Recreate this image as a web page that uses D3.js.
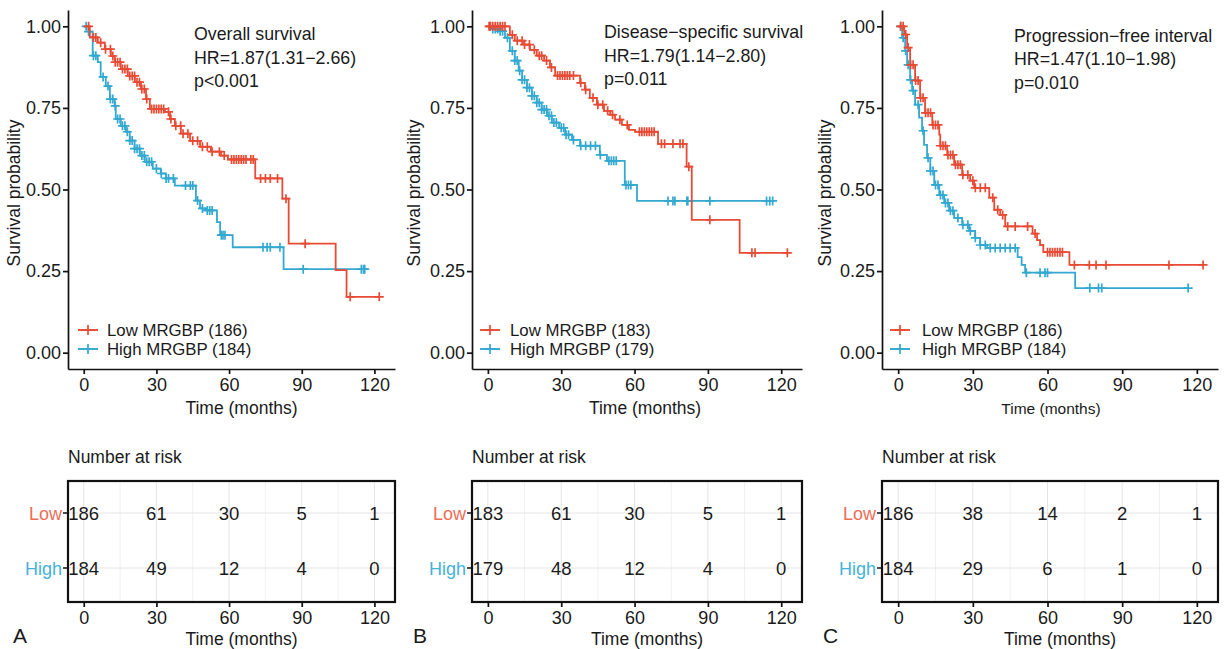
<!DOCTYPE html>
<html>
<head>
<meta charset="utf-8">
<script src="https://cdn.jsdelivr.net/npm/d3@7"></script>
<style>
  body { margin: 0; background: #fff; }
  text { font-family: "Liberation Sans", Arial, sans-serif; fill: #1a1a1a; }
</style>
</head>
<body>
<svg id="fig" width="1226" height="649"></svg>
<script>
// shared ticks / groups
const timeTicks = [0, 30, 60, 90, 120];
const gridTimes = [0, 15, 30, 45, 60, 75, 90, 105, 120];
const survTicks = [0, 0.25, 0.5, 0.75, 1];
const groupNames = ["Low", "High"];
const lowColor = "#E84B35";
const highColor = "#33A8D0";

// A - overall survival ([time of drop, survival after drop])
const osLowSteps = [[2.5,.966],[5.8,.95],[8.7,.93],[11.2,.909],[12.8,.89],[15.3,.869],[18.2,.848],[21.1,.829],[23.6,.808],[25.7,.777],[27.3,.747],[33.5,.738],[35.6,.716],[37.6,.695],[40.1,.671],[43.9,.649],[48,.631],[52.5,.616],[56.7,.604],[59.5,.592],[70.8,.534],[82,.472],[84.6,.334],[104,.253],[108.5,.171]];
const osLowEnd = 122;
const osLowCensor = [2,4,5,7,9,11,12,13,14,15,16,17,18,19,20,21,22,23,24,25,26,28,29,30,31,32,33,35,36,38,40,41,43,45,47,49,51,53,56,58,61,62,63,64,65,66,67,69,70,73,75,77,80,83.5,91.4,110,122];
const osHighSteps = [[2,.984],[3.7,.91],[5.8,.89],[7,.845],[9.1,.817],[10.8,.777],[12.8,.756],[13.2,.716],[15.3,.695],[17.4,.677],[19,.65],[21,.625],[23.2,.604],[25.2,.585],[28.5,.564],[31.8,.549],[33.9,.534],[37.6,.512],[46.3,.466],[48,.442],[50,.436],[55,.40],[56.3,.36],[61.5,.323],[82.5,.256]];
const osHighEnd = 116;
const osHighCensor = [1,2,4,5,8,10,11,12,13,14,15,16,17,18,19,20,21,22,23,24,25,26,27,28,30,32,34,35,37,42,44,45,47,49,51,52,53,56.8,57.5,58.3,74,75.7,77,81,90.6,114.6,115.5,116];
const osRiskLow = [186, 61, 30, 5, 1];
const osRiskHigh = [184, 49, 12, 4, 0];

// B - disease-specific survival
const dssLowSteps = [[9,.974],[11,.956],[14.8,.944],[17.2,.928],[20,.91],[23,.895],[25.4,.874],[27.5,.849],[37.7,.827],[39.7,.806],[41.7,.781],[44.6,.76],[47.5,.741],[50,.729],[52,.714],[54.8,.698],[57.7,.683],[60.2,.677],[69.6,.64],[81.3,.57],[83.4,.407],[103,.306]];
const dssLowEnd = 122.5;
const dssLowCensor = [0.5,1,2,3,4,5,6,7,10,12,14,15,17,19,21,22,24,26,28.5,29.5,30.5,31.5,32.5,33.5,35,38,40,43,45,47,49,51,54,57,62,63,64,65,66,67,68,71,72.3,75.7,78.6,79.8,82.2,90.8,108,109.3,122.5];
const dssHighSteps = [[1.5,.992],[4.5,.985],[7,.965],[9,.925],[11,.895],[12.6,.864],[14,.836],[16,.812],[18,.787],[20,.766],[22,.745],[24.2,.726],[26.2,.705],[29.1,.689],[31.6,.668],[34.4,.652],[37.7,.634],[45.8,.606],[48.7,.588],[56,.514],[61,.465]];
const dssHighEnd = 116.5;
const dssHighCensor = [1,2,3,4,5,6,8,10,11,12,13,14,15,16,17,18,19,20,21,22,23,24,25,26,27,28,30,31,32,33,35,38,40,42,44,46,49.5,50.5,51.5,52.5,56.5,57.5,58.5,73.7,75.7,76.5,81.4,81.8,90.8,114,115.3,116.5];
const dssRiskLow = [183, 61, 30, 5, 1];
const dssRiskHigh = [179, 48, 12, 4, 0];

// C - progression-free interval
const pfiLowSteps = [[2.4,.975],[3.6,.935],[4.8,.882],[6.8,.834],[8.8,.781],[10.8,.735],[13.7,.698],[16.5,.668],[16.9,.634],[19.7,.606],[22.5,.576],[25.7,.545],[28.9,.527],[30.5,.505],[36.6,.475],[38.6,.438],[41,.422],[43,.387],[54,.365],[55.8,.345],[57,.33],[58.3,.308],[68.8,.269]];
const pfiLowEnd = 122.5;
const pfiLowCensor = [1,2,3,4,5,6,7,8,9,10,11,12,13,14,15,16,17,18,19,20,21,22,23,24,25,26,28,30,31,33,35,38,40,42,44,47,52,55,60,61,62,63,64,65,66,70.8,76.8,79.5,83.5,108.8,122.5];
const pfiHighSteps = [[1.6,.965],[2.8,.925],[3.6,.882],[4.8,.836],[5.6,.803],[6.8,.76],[8.4,.72],[9.6,.68],[10.4,.637],[11.6,.597],[12.9,.557],[14.5,.514],[16.5,.483],[18.5,.459],[20.5,.435],[22.5,.413],[25.7,.392],[28.5,.373],[30.9,.352],[32.9,.33],[35.8,.321],[48,.293],[49.6,.269],[51,.245],[71.1,.198]];
const pfiHighEnd = 116.5;
const pfiHighCensor = [1,2,3,4,5,6,8,10,12,13,14,15,16,17,18,19,20,21,22,24,26,28,29,31,33,35,37,39,41,43,45,47,51.5,57,59,60,77,80.5,81.8,116.5];
const pfiRiskLow = [186, 38, 14, 2, 1];
const pfiRiskHigh = [184, 29, 6, 1, 0];

const panels = [
  { letter: "A", title: "Overall survival", hr: "HR=1.87(1.31\u22122.66)", p: "p<0.001", n: [186, 184],
    low: { steps: osLowSteps, end: osLowEnd, censor: osLowCensor },
    high: { steps: osHighSteps, end: osHighEnd, censor: osHighCensor },
    risk: [osRiskLow, osRiskHigh] },
  { letter: "B", title: "Disease\u2212specific survival", hr: "HR=1.79(1.14\u22122.80)", p: "p=0.011", n: [183, 179],
    low: { steps: dssLowSteps, end: dssLowEnd, censor: dssLowCensor },
    high: { steps: dssHighSteps, end: dssHighEnd, censor: dssHighCensor },
    risk: [dssRiskLow, dssRiskHigh] },
  { letter: "C", title: "Progression\u2212free interval", hr: "HR=1.47(1.10\u22121.98)", p: "p=0.010", n: [186, 184],
    low: { steps: pfiLowSteps, end: pfiLowEnd, censor: pfiLowCensor },
    high: { steps: pfiHighSteps, end: pfiHighEnd, censor: pfiHighCensor },
    risk: [pfiRiskLow, pfiRiskHigh] }
];

// where each panel sits on the page
const layout = [
  { left: 68, right: 395, titleX: 194, titleY: [40, 64, 87], keyX: 78, textX: 107, ylabX: 20, xlabDx: 10, letterX: 13, xlabSize: 17.5 },
  { left: 472, right: 802, titleX: 604, titleY: [38, 62, 85], keyX: 480, textX: 510, ylabX: 419.5, xlabDx: 8, letterX: 413, xlabSize: 17.5 },
  { left: 882, right: 1218, titleX: 1014, titleY: [42, 65, 89], keyX: 890, textX: 922, ylabX: 831, xlabDx: 1, letterX: 823, xlabSize: 15.5 }
];

const svg = d3.select("#fig");

function survAt(curve, t) {
  let s = 1;
  curve.steps.forEach(d => { if (d[0] <= t) s = d[1]; });
  return s;
}

function plusMark(g, cx, cy, color, r) {
  g.append("path")
    .attr("d", `M${cx - r},${cy}H${cx + r}M${cx},${cy - r}V${cy + r}`)
    .attr("stroke", color)
    .attr("stroke-width", 1.7)
    .attr("fill", "none");
}

function styleAxis(sel, size) {
  sel.selectAll("path, line").attr("stroke", "#111").attr("stroke-width", 1.7);
  sel.selectAll("text").attr("font-size", size).attr("fill", "#1a1a1a")
    .style("font-family", "'Liberation Sans', Arial, sans-serif");
}

function drawPanel(p, lay) {
  const g = svg.append("g");
  const x = d3.scaleLinear().domain([-6.5, 128.5]).range([lay.left, lay.right]);
  const y = d3.scaleLinear().domain([-0.05, 1.05]).range([369, 10]);

  // survival curves
  const line = d3.line().x(d => x(d[0])).y(d => y(d[1])).curve(d3.curveStepAfter);
  const curves = [[p.high, highColor], [p.low, lowColor]];
  curves.forEach(([c, col]) => {
    const pts = [[0, 1]].concat(c.steps);
    pts.push([c.end, c.steps[c.steps.length - 1][1]]);
    g.append("path").datum(pts)
      .attr("d", line)
      .attr("fill", "none")
      .attr("stroke", col)
      .attr("stroke-width", 1.8);
    c.censor.forEach(t => plusMark(g, x(t), y(survAt(c, t)), col, 4.5));
  });

  // axes
  const yAx = g.append("g").attr("transform", `translate(${lay.left},0)`)
    .call(d3.axisLeft(y).tickValues(survTicks).tickFormat(d3.format(".2f")).tickSize(5).tickSizeOuter(0).tickPadding(2));
  styleAxis(yAx, 18);
  const xAx = g.append("g").attr("transform", "translate(0,369)")
    .call(d3.axisBottom(x).tickValues(timeTicks).tickSize(5).tickSizeOuter(0).tickPadding(4));
  styleAxis(xAx, 18);

  g.append("text")
    .attr("x", (lay.left + lay.right) / 2 + lay.xlabDx).attr("y", 414)
    .attr("text-anchor", "middle").attr("font-size", lay.xlabSize)
    .text("Time (months)");
  g.append("text")
    .attr("transform", `translate(${lay.ylabX},193) rotate(-90)`)
    .attr("text-anchor", "middle").attr("font-size", 17.5)
    .text("Survival probability");

  // annotation
  [p.title, p.hr, p.p].forEach((s, i) => {
    g.append("text").attr("x", lay.titleX).attr("y", lay.titleY[i])
      .attr("font-size", 17.8).text(s);
  });

  // legend
  groupNames.forEach((name, i) => {
    const ly = 330 + i * 19;
    const col = i === 0 ? lowColor : highColor;
    g.append("line").attr("x1", lay.keyX).attr("x2", lay.keyX + 20)
      .attr("y1", ly).attr("y2", ly).attr("stroke", col).attr("stroke-width", 1.9);
    plusMark(g, lay.keyX + 10, ly, col, 5);
    g.append("text").attr("x", lay.textX).attr("y", ly + 6)
      .attr("font-size", 16.8).text(`${name} MRGBP (${p.n[i]})`);
  });

  // number at risk table
  const top = 481, bottom = 602;
  const ry = d3.scalePoint().domain(groupNames).range([513, 568]);
  g.append("text").attr("x", lay.left).attr("y", 463).attr("font-size", 17.5).text("Number at risk");

  gridTimes.forEach((t, i) => {
    g.append("line").attr("x1", x(t)).attr("x2", x(t)).attr("y1", top).attr("y2", bottom)
      .attr("stroke", i % 2 ? "#f0f0f0" : "#e4e4e4").attr("stroke-width", 1);
  });
  groupNames.forEach(name => {
    g.append("line").attr("x1", lay.left).attr("x2", lay.right).attr("y1", ry(name)).attr("y2", ry(name))
      .attr("stroke", "#e4e4e4").attr("stroke-width", 1);
  });
  g.append("rect").attr("x", lay.left).attr("y", top)
    .attr("width", lay.right - lay.left).attr("height", bottom - top)
    .attr("fill", "none").attr("stroke", "#111").attr("stroke-width", 2.2);

  groupNames.forEach((name, i) => {
    const col = i === 0 ? "#EE6C57" : "#45B3D8";
    g.append("line").attr("x1", lay.left - 5).attr("x2", lay.left)
      .attr("y1", ry(name)).attr("y2", ry(name)).attr("stroke", "#111").attr("stroke-width", 1.5);
    g.append("text").attr("x", lay.left - 6).attr("y", ry(name) + 6.5)
      .attr("text-anchor", "end").attr("font-size", 18).style("fill", col).text(name);
    p.risk[i].forEach((v, j) => {
      g.append("text").attr("x", x(timeTicks[j])).attr("y", ry(name) + 6.5)
        .attr("text-anchor", "middle").attr("font-size", 18.5).text(v);
    });
  });

  const rAx = g.append("g").attr("transform", `translate(0,${bottom})`)
    .call(d3.axisBottom(x).tickValues(timeTicks).tickSize(5).tickSizeOuter(0).tickPadding(4));
  rAx.select(".domain").remove();
  styleAxis(rAx, 18);

  g.append("text")
    .attr("x", (lay.left + lay.right) / 2 + 10).attr("y", 645)
    .attr("text-anchor", "middle").attr("font-size", 17.5)
    .text("Time (months)");
  g.append("text").attr("x", lay.letterX).attr("y", 643).attr("font-size", 21).text(p.letter);
}

panels.forEach((p, i) => drawPanel(p, layout[i]));
</script>
</body>
</html>
